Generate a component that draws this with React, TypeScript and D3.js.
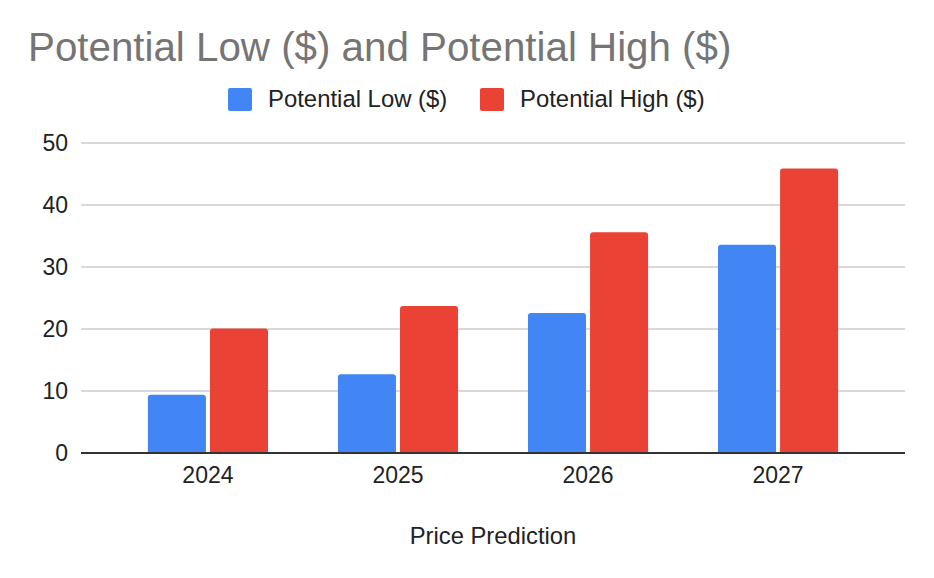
import * as d3 from 'd3';

const years = ['2024', '2025', '2026', '2027'];
const seriesNames = ['Potential Low ($)', 'Potential High ($)'];
const lowValues = [9.4, 12.7, 22.6, 33.6];
const highValues = [20.1, 23.7, 35.6, 45.9];
const yTicks = [0, 10, 20, 30, 40, 50];
const colors = ['#4285f4', '#ea4335'];

const width = 934;
const height = 578;
const margin = { top: 143, right: 29, bottom: 125, left: 81 };
const font = '"Liberation Sans", Arial, sans-serif';

// rounded-top bar path
const barPath = (x: number, y: number, w: number, h: number, r: number) => {
  const rr = Math.min(r, h, w / 2);
  return `M${x},${y + h}V${y + rr}Q${x},${y} ${x + rr},${y}H${x + w - rr}Q${x + w},${y} ${x + w},${y + rr}V${y + h}Z`;
};

export default function App() {
  const innerBottom = height - margin.bottom;
  const x0 = d3.scaleBand<string>()
    .domain(years)
    .range([margin.left, width - margin.right])
    .paddingInner(0.368)
    .paddingOuter(0.352);
  const x1 = d3.scaleBand<number>()
    .domain([0, 1])
    .range([0, x0.bandwidth()])
    .paddingInner(0.065);
  const y = d3.scaleLinear().domain([0, 50]).range([innerBottom, margin.top]);

  const series = [lowValues, highValues];

  return (
    <svg width={width} height={height} style={{ position: 'absolute', left: 0, top: 0, background: '#fff' }} fontFamily={font}>
      <text x={28} y={61} fontSize={40.3} fill="#757575">Potential Low ($) and Potential High ($)</text>

      {/* legend */}
      <g>
        <rect x={228} y={88} width={24} height={23} rx={2} fill={colors[0]} />
        <text x={268} y={107} fontSize={23.9} fill="#222">{seriesNames[0]}</text>
        <rect x={480} y={88} width={24} height={23} rx={2} fill={colors[1]} />
        <text x={520} y={107} fontSize={23.9} fill="#222">{seriesNames[1]}</text>
      </g>

      {/* grid + y ticks */}
      {yTicks.map(t => (
        <g key={t}>
          {t !== 0 && (
            <line x1={margin.left} x2={width - margin.right} y1={y(t)} y2={y(t)} stroke="#cccccc" strokeWidth={1.5} />
          )}
          <text x={68} y={y(t)} dy="0.36em" textAnchor="end" fontSize={23} fill="#222">{t}</text>
        </g>
      ))}

      {/* bars */}
      {years.map((yr, i) => (
        <g key={yr} transform={`translate(${x0(yr)},0)`}>
          {series.map((vals, s) => {
            const top = y(vals[i]);
            return (
              <path key={s} d={barPath(x1(s)!, top, x1.bandwidth(), innerBottom - top, 3)} fill={colors[s]} />
            );
          })}
          <text x={x0.bandwidth() / 2} y={483} textAnchor="middle" fontSize={23} fill="#222">{yr}</text>
        </g>
      ))}

      <line x1={margin.left} x2={width - margin.right} y1={innerBottom} y2={innerBottom} stroke="#333" strokeWidth={2} />

      <text x={493} y={544} textAnchor="middle" fontSize={23.8} fill="#222">Price Prediction</text>
    </svg>
  );
}
